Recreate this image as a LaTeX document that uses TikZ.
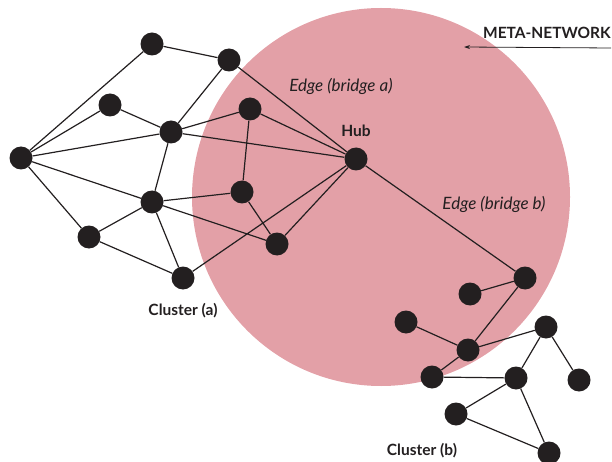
\documentclass[tikz,border=0pt]{standalone}
\usepackage{fontspec}
\setmainfont{Lato}
\usetikzlibrary{arrows.meta}
\definecolor{metapink}{RGB}{227,160,167}
\definecolor{nodeblack}{RGB}{35,31,32}
\begin{document}
\begin{tikzpicture}[x=1pt,y=-1pt,
  vtx/.style={circle,fill=nodeblack,inner sep=0pt,minimum size=23pt},
  link/.style={draw=nodeblack,line width=1.2pt},
  lbl/.style={font=\fontsize{15.5}{18}\selectfont\bfseries,text=nodeblack,inner sep=0pt},
  ilbl/.style={font=\fontsize{17}{20}\selectfont\itshape,text=nodeblack,inner sep=0pt}]
\useasboundingbox (0,0) rectangle (612,462);
% meta-network region
\fill[metapink] (381,197) circle[radius=189];
% cluster (a)
\node[vtx] (a1) at (152,44) {};
\node[vtx] (a2) at (229,60) {};
\node[vtx] (a3) at (110,105) {};
\node[vtx] (a4) at (171,132) {};
\node[vtx] (a5) at (21,158) {};
\node[vtx] (a6) at (250,109) {};
\node[vtx] (hub) at (356,159) {};
\node[vtx] (a7) at (152,202) {};
\node[vtx] (a8) at (242,192) {};
\node[vtx] (a9) at (89,237) {};
\node[vtx] (a10) at (277,244) {};
\node[vtx] (a11) at (183,278) {};
% cluster (b)
\node[vtx] (b1) at (525,278) {};
\node[vtx] (b2) at (470,294) {};
\node[vtx] (b3) at (406,322) {};
\node[vtx] (b4) at (468,350) {};
\node[vtx] (b5) at (546,327) {};
\node[vtx] (b6) at (432,377) {};
\node[vtx] (b7) at (516,378) {};
\node[vtx] (b8) at (579,380) {};
\node[vtx] (b9) at (456,414) {};
\node[vtx] (b10) at (549,453) {};
% edges of cluster (a)
\path[link] (a1)--(a2) (a1)--(a5) (a2)--(a4) (a2)--(hub)
  (a3)--(a5) (a3)--(a4) (a4)--(a5) (a4)--(a6) (a4)--(hub) (a4)--(a7)
  (a6)--(hub) (a6)--(a8) (a5)--(a7) (a5)--(a9)
  (a7)--(a8) (a7)--(a9) (a7)--(a10) (a7)--(a11)
  (a8)--(a10) (a9)--(a11) (a10)--(hub) (a11)--(hub);
% bridge to cluster (b)
\path[link] (hub)--(b1);
% edges of cluster (b)
\path[link] (b1)--(b2) (b1)--(b4) (b3)--(b4) (b4)--(b5) (b4)--(b6)
  (b6)--(b7) (b5)--(b7) (b5)--(b8) (b7)--(b9) (b9)--(b10) (b7)--(b10);
% labels
\node[lbl] (hubl) at (356,131) {Hub};
\node[ilbl] (ea) at (341,86) {Edge (bridge a)};
\node[ilbl] (eb) at (494,204) {Edge (bridge b)};
\node[lbl] (ca) at (183,311) {Cluster (a)};
\node[lbl] (cb) at (422,451) {Cluster (b)};
\node[lbl,anchor=east] (mn) at (611,33) {META-NETWORK};
\coordinate (mnr) at (611,48);
\coordinate (mnl) at (464,47);
\draw[nodeblack,line width=0.8pt,-{Stealth[length=6pt,width=4pt]}] (mnr)--(mnl);
\end{tikzpicture}
\end{document}
